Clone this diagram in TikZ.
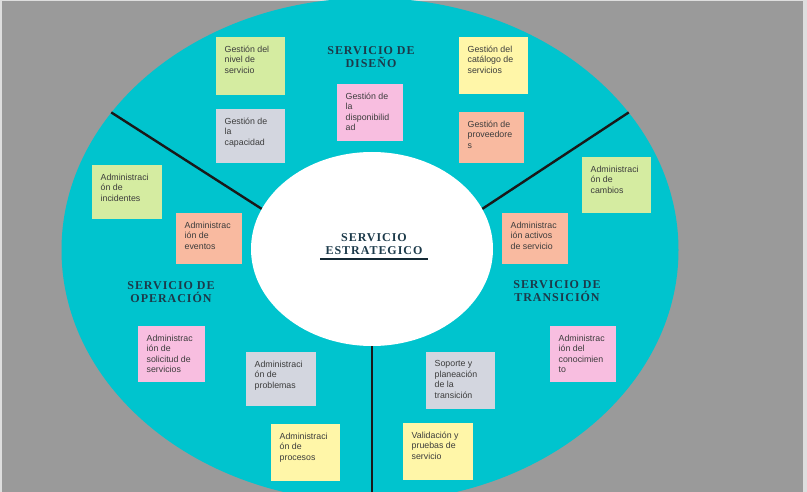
\documentclass[tikz,border=0pt]{standalone}
\usepackage{fontspec}
\usepackage{tikz}
\usetikzlibrary{shapes.geometric, calc}
\usepackage{xcolor}
\newfontfamily\titulofont[LetterSpace=8]{Liberation Serif}
\newfontfamily\notafont{Liberation Sans}
\definecolor{fondo}{RGB}{154,154,154}
\definecolor{borde}{RGB}{222,222,222}
\definecolor{cian}{RGB}{0,196,206}
\definecolor{verde}{RGB}{213,236,161}
\definecolor{gris}{RGB}{211,214,223}
\definecolor{rosa}{RGB}{248,190,224}
\definecolor{amarillo}{RGB}{255,246,168}
\definecolor{salmon}{RGB}{249,186,160}
\definecolor{azul}{RGB}{28,58,74}
\definecolor{letra}{RGB}{60,60,60}
\newcommand{\nota}[3]{\parbox[t][#2][t]{#1}{#3}}

\begin{document}
\begin{tikzpicture}[x=1pt, y=-1pt,
        nota/.style={anchor=north west, inner sep=8.5pt, text=letra, font=\notafont\fontsize{8.8}{10.5}\selectfont},
        titulo/.style={align=center, text=azul, font=\titulofont\bfseries\fontsize{12}{13.5}\selectfont},
        division/.style={line width=2.4pt, draw=black!90}]
        \useasboundingbox (0,0) rectangle (807,492);
        \fill[borde] (0,0) rectangle (807,492);
        \fill[fondo] (2,1) rectangle (803,492);
        \clip (2,1) rectangle (803,492);

        \node[ellipse, fill=cian, minimum width=617pt, minimum height=504pt, inner sep=0pt] at (370,250) (anillo) {};
        \node[ellipse, fill=white, minimum width=242pt, minimum height=194pt, inner sep=0pt] at (372,249) (estrategico) {};

        \draw[division] (anillo.152) -- (estrategico.160);
        \draw[division] (anillo.28) -- (estrategico.20);
        \draw[division] (estrategico.south) -- ++(0,-160pt);

        \node[nota, fill=verde] at (216,37) (nivel) {\nota{52pt}{41pt}{Gestión del\\nivel de\\servicio}};
        \node[nota, fill=gris] at (216,109) (capacidad) {\nota{52pt}{37pt}{Gestión de\\la\\capacidad}};
        \node[nota, fill=rosa] at (337,84) (disponibilidad) {\nota{49pt}{40pt}{Gestión de\\la\\disponibilid\\ad}};
        \node[nota, fill=amarillo] at (459,37) (catalogo) {\nota{52pt}{40pt}{Gestión del\\catálogo de\\servicios}};
        \node[nota, fill=salmon] at (459,112) (proveedores) {\nota{48pt}{34pt}{Gestión de\\proveedore\\s}};

        \node[nota, fill=verde] at (92,165) (incidentes) {\nota{53pt}{37pt}{Administraci\\ón de\\incidentes}};
        \node[nota, fill=salmon] at (176,213) (eventos) {\nota{49pt}{34pt}{Administrac\\ión de\\eventos}};
        \node[nota, fill=rosa] at (138,326) (solicitud) {\nota{50pt}{39pt}{Administrac\\ión de\\solicitud de\\servicios}};
        \node[nota, fill=gris] at (246,352) (problemas) {\nota{53pt}{37pt}{Administraci\\ón de\\problemas}};
        \node[nota, fill=amarillo] at (271,424) (procesos) {\nota{52pt}{40pt}{Administraci\\ón de\\procesos}};

        \node[nota, fill=verde] at (582,157) (cambios) {\nota{52pt}{39pt}{Administraci\\ón de\\cambios}};
        \node[nota, fill=salmon] at (502,213) (activos) {\nota{49pt}{34pt}{Administrac\\ión activos\\de servicio}};
        \node[nota, fill=rosa] at (550,326) (conocimiento) {\nota{49pt}{39pt}{Administrac\\ión del\\conocimien\\to}};
        \node[nota, fill=gris] at (426,352) (soporte) {\nota{52pt}{40pt}{Soporte y\\planeación\\de la\\transición}};
        \node[nota, fill=amarillo] at (403,423) (validacion) {\nota{53pt}{40pt}{Validación y\\pruebas de\\servicio}};

        \node[titulo] at (371,57) (diseno) {SERVICIO DE\\DISEÑO};
        \node[titulo] at (171,292) (operacion) {SERVICIO DE\\OPERACIÓN};
        \node[titulo] at (557,291) (transicion) {SERVICIO DE\\TRANSICIÓN};
        \node[titulo] at (374,238) (servicio) {SERVICIO};
        \node[titulo] at (374,251) (estrat) {ESTRATEGICO};
        \draw[line width=2pt, azul!70!black] ([xshift=-2pt]estrat.south west) -- ([xshift=2pt]estrat.south east);
\end{tikzpicture}
\end{document}
